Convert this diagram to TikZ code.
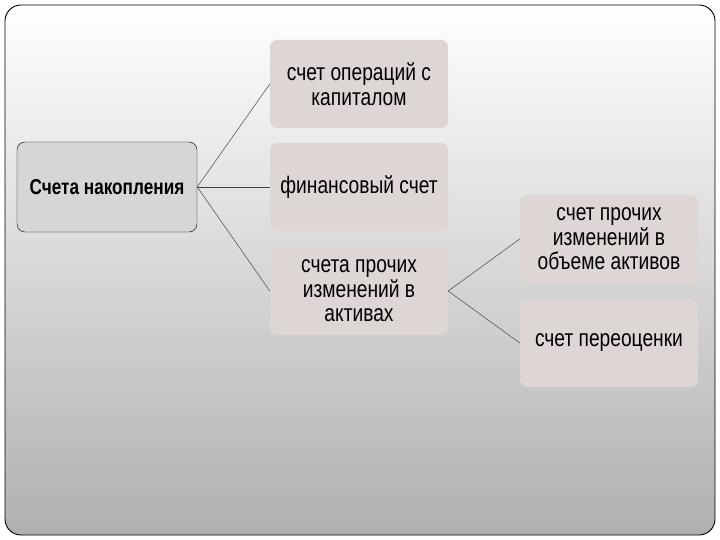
\documentclass[tikz,border=0pt]{standalone}
\usepackage{fontspec}
\setmainfont{Liberation Sans}[FakeStretch=0.8]
\usepackage{xcolor}
\usetikzlibrary{positioning}
\definecolor{boxpink}{RGB}{222,213,213}
\definecolor{rootgray}{RGB}{214,214,214}
\definecolor{linkred}{RGB}{135,35,35}
\definecolor{linkgray}{RGB}{70,70,70}

\begin{document}
\begin{tikzpicture}[
      x=1pt, y=-1pt,
      leaf/.style={fill=boxpink, rounded corners=7pt, minimum width=178pt, minimum height=88pt,
        align=center, inner sep=2pt, font=\fontsize{24}{24.5}\selectfont},
      root/.style={fill=rootgray, draw=black, thin, rounded corners=8pt, minimum width=180pt,
        minimum height=90pt, align=center, font=\bfseries\fontsize{21.5}{23}\selectfont},
      link/.style={draw=linkgray, line width=0.5pt}
    ]
      \useasboundingbox (0,0) rectangle (720,540);
      % slide frame
      \shade[top color=white, bottom color=black!31, draw=black, line width=0.9pt,
        rounded corners=16pt] (5,5) rectangle (715,535);
      % boxes
      \node[root] (acc) at (107,187) {Счета накопления};
      \node[leaf] (cap) at (359,84) {счет операций с\\капиталом};
      \node[leaf] (fin) at (359,187) {финансовый счет};
      \node[leaf] (oth) at (359,291) {счета прочих\\изменений в\\активах};
      \node[leaf] (vol) at (609,239) {счет прочих\\изменений в\\объеме активов};
      \node[leaf] (rev) at (609,343) {счет переоценки};
      % connectors
      \draw[link] (acc.east) -- (cap.west);
      \draw[link, draw=linkred] (acc.east) -- (fin.west);
      \draw[link] (acc.east) -- (oth.west);
      \draw[link] (oth.east) -- (vol.west);
      \draw[link] (oth.east) -- (rev.west);
    \end{tikzpicture}
\end{document}
